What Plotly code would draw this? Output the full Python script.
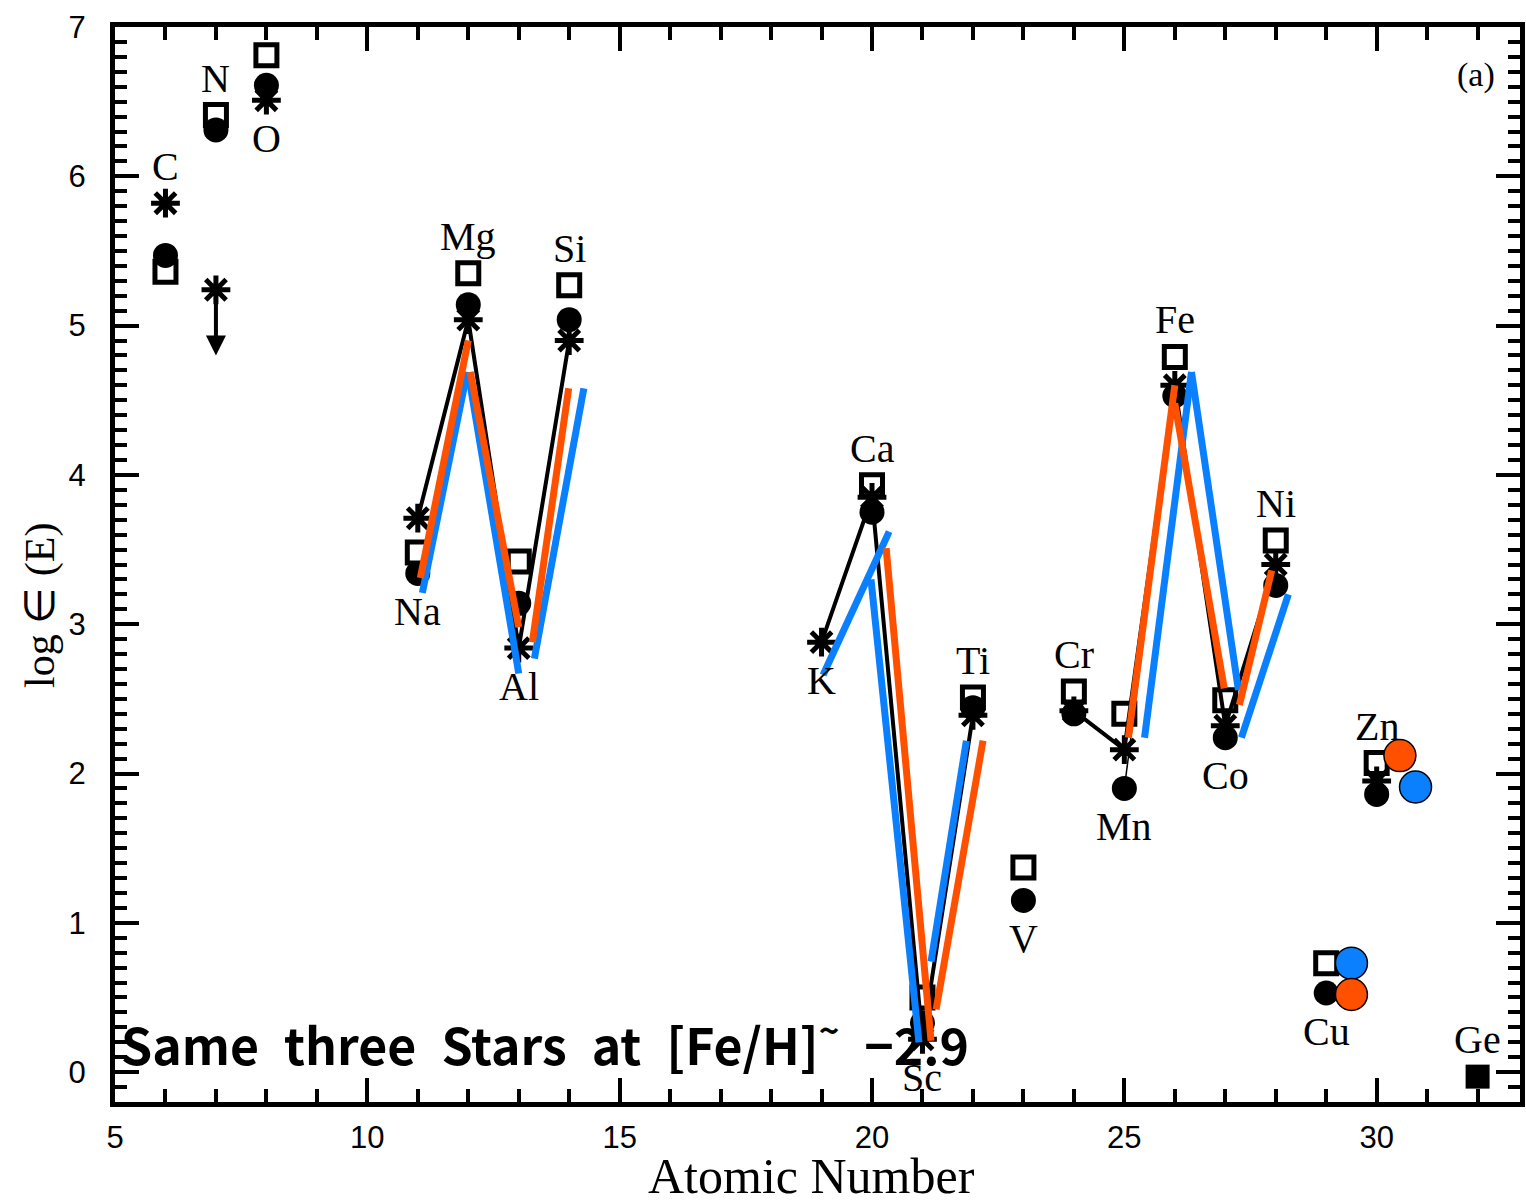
import plotly.graph_objects as go

# ---------------- data ----------------
elements = ["C", "N", "O", "Na", "Mg", "Al", "Si", "K", "Ca", "Sc", "Ti", "V",
            "Cr", "Mn", "Fe", "Co", "Ni", "Cu", "Zn", "Ge"]
atomic_number = [6, 7, 8, 11, 12, 13, 14, 19, 20, 21, 22, 23,
                 24, 25, 26, 27, 28, 29, 30, 32]

# star A (asterisks) - N is an upper limit
star_asterisk = [5.82, 5.24, 6.51, 3.71, 5.04, 2.84, 4.90, 2.88, 3.85, 0.22, 2.39, None,
                 2.42, 2.16, 4.60, 2.32, 3.40, None, 1.95, None]
# star B (open squares)
star_square = [5.36, 6.41, 6.81, 3.48, 5.35, 3.42, 5.27, None, 3.93, 0.50, 2.51, 1.37,
               2.55, 2.40, 4.79, 2.49, 3.56, 0.73, 2.07, None]
# star C (filled circles)
star_circle = [5.47, 6.31, 6.61, 3.34, 5.14, 3.14, 5.04, None, 3.75, 0.33, 2.44, 1.15,
               2.40, 1.90, 4.53, 2.24, 3.26, 0.53, 1.86, None]
# other measurement (filled square)
other_square = [None] * 19 + [-0.03]

upper_limit_elements = ["N"]
label_side = ["above", "above", "below", "below", "above", "below", "above", "below", "above",
              "below", "above", "below", "above", "below", "above", "below", "above", "below",
              "above", "above"]

# groups connected by the black line (through asterisks)
line_groups = [[11, 12, 13, 14], [19, 20, 21, 22], [24, 25, 26, 27, 28]]

# model curves (orange / blue), separate segments
orange_segments = [
    [(11.05, 3.31), (12.00, 4.90)],
    [(12.04, 4.69), (13.00, 2.98)],
    [(13.27, 2.88), (13.99, 4.58)],
    [(20.28, 3.51), (21.17, 0.21)],
    [(21.27, 0.42), (22.20, 2.22)],
    [(25.08, 2.24), (26.00, 4.60)],
    [(26.00, 4.48), (26.98, 2.57)],
    [(27.28, 2.46), (27.92, 3.36)],
]
blue_segments = [
    [(11.09, 3.21), (11.98, 4.69)],
    [(12.00, 4.68), (13.00, 2.67)],
    [(13.31, 2.77), (14.29, 4.58)],
    [(19.03, 2.66), (20.34, 3.62)],
    [(19.98, 3.30), (20.93, 0.20)],
    [(21.17, 0.74), (21.87, 2.22)],
    [(25.40, 2.24), (26.33, 4.69)],
    [(26.33, 4.69), (27.26, 2.56)],
    [(27.32, 2.24), (28.25, 3.20)],
]
orange_points_x = [30.46, 29.50]
orange_points_y = [2.12, 0.52]
blue_points_x = [30.77, 29.50]
blue_points_y = [1.91, 0.73]

caption_words = ["Same", "three", "Stars", "at", "[Fe/H]<sup>~</sup>\u2002−2.9"]

x_title = "Atomic Number"
y_title = "log ∈ (E)"

# ---------------- styles ----------------
ORANGE = "#FF5000"
BLUE = "#0A80FF"
SERIF = "Liberation Serif"
SANS = "Liberation Sans"

fig = go.Figure()

# black connecting line
z_index = {z: i for i, z in enumerate(atomic_number)}
lx, ly = [], []
for g in line_groups:
    for z in g:
        lx.append(z)
        ly.append(star_asterisk[z_index[z]])
    lx.append(None)
    ly.append(None)
fig.add_trace(go.Scatter(x=lx, y=ly, mode="lines",
                         line=dict(color="black", width=4)))

# thin line Mn -> Fe (filled circles)
fig.add_trace(go.Scatter(x=[25, 26], y=[star_circle[z_index[25]], star_circle[z_index[26]]],
                         mode="lines", line=dict(color="black", width=1.5)))

fig.add_trace(go.Scatter(x=atomic_number, y=star_square, mode="markers",
                         marker=dict(symbol="square-open", size=21, color="black",
                                     line=dict(width=5, color="black"))))
fig.add_trace(go.Scatter(x=atomic_number, y=star_circle, mode="markers",
                         marker=dict(symbol="circle", size=25, color="black",
                                     line=dict(width=0))))
fig.add_trace(go.Scatter(x=atomic_number, y=star_asterisk, mode="markers",
                         marker=dict(symbol="asterisk-open", size=24, color="black",
                                     line=dict(width=5, color="black"))))
fig.add_trace(go.Scatter(x=atomic_number, y=other_square, mode="markers",
                         marker=dict(symbol="square", size=24, color="black",
                                     line=dict(width=0))))

# caption text (beneath model lines)
caption = "\u2002".join(caption_words)
fig.add_trace(go.Scatter(x=[5.12], y=[0.13], mode="text", text=[caption],
                         textposition="middle right",
                         textfont=dict(family="Noto Sans CJK JP", size=50, color="black",
                                       weight="bold"),
                         cliponaxis=False))


def seg_xy(segs):
    xs, ys = [], []
    for s in segs:
        for (a, b) in s:
            xs.append(a)
            ys.append(b)
        xs.append(None)
        ys.append(None)
    return xs, ys


bx, by = seg_xy(blue_segments)
ox, oy = seg_xy(orange_segments)
fig.add_trace(go.Scatter(x=bx, y=by, mode="lines", line=dict(color=BLUE, width=7)))
fig.add_trace(go.Scatter(x=ox, y=oy, mode="lines", line=dict(color=ORANGE, width=7)))

fig.add_trace(go.Scatter(x=blue_points_x, y=blue_points_y, mode="markers",
                         marker=dict(symbol="circle", size=32, color=BLUE,
                                     line=dict(width=1.5, color="black"))))
fig.add_trace(go.Scatter(x=orange_points_x, y=orange_points_y, mode="markers",
                         marker=dict(symbol="circle", size=32, color=ORANGE,
                                     line=dict(width=1.5, color="black"))))

# element labels
for el, z, side, a, s, c, o in zip(elements, atomic_number, label_side, star_asterisk,
                                   star_square, star_circle, other_square):
    vals = [v for v in (a, s, c, o) if v is not None]
    if side == "above":
        yv, shift = max(vals), 37
    else:
        yv, shift = min(vals), -38
    fig.add_annotation(x=z, y=yv, text=el, showarrow=False, yshift=shift,
                       font=dict(family=SERIF, size=40, color="black"),
                       xanchor="center", yanchor="middle")

# upper-limit arrows
for el in upper_limit_elements:
    i = elements.index(el)
    fig.add_annotation(x=atomic_number[i], y=star_asterisk[i] - 0.44,
                       ax=atomic_number[i], ay=star_asterisk[i],
                       xref="x", yref="y", axref="x", ayref="y", text="",
                       showarrow=True, arrowhead=2, arrowsize=1.0, arrowwidth=4,
                       arrowcolor="black", standoff=0, startstandoff=0)

fig.add_annotation(x=0.969, y=0.955, xref="paper", yref="paper", text="(a)",
                   xanchor="center", yanchor="middle",
                   showarrow=False, font=dict(family=SERIF, size=34, color="black"))

# axis titles (annotations for exact placement)
fig.add_annotation(x=-0.053, y=0.462, xref="paper", yref="paper", text=y_title,
                   textangle=-90, xanchor="center", yanchor="middle", showarrow=False,
                   font=dict(family=SERIF, size=42, color="black"))
fig.add_annotation(x=0.496, y=-0.069, xref="paper", yref="paper", text=x_title,
                   xanchor="center", yanchor="middle", showarrow=False,
                   font=dict(family=SERIF, size=50, color="black"))

fig.update_layout(
    width=1526, height=1204,
    margin=dict(l=115, r=6, t=27, b=102, autoexpand=False),
    plot_bgcolor="white", paper_bgcolor="white",
    showlegend=False,
)
fig.update_xaxes(
    range=[5, 32.84], tick0=5, dtick=5, automargin=False,
    ticks="inside", ticklen=24, tickwidth=4, tickcolor="black",
    showline=True, linewidth=5, linecolor="black", mirror="allticks",
    showgrid=False, zeroline=False,
    tickfont=dict(family=SANS, size=31, color="black"),
    ticklabelstandoff=4,
    minor=dict(dtick=1, tick0=5, ticks="inside", ticklen=13, tickwidth=4,
               tickcolor="black", showgrid=False),
)
fig.update_yaxes(
    range=[-0.2, 7], tick0=0, dtick=1, automargin=False,
    ticks="inside", ticklen=24, tickwidth=4, tickcolor="black",
    showline=True, linewidth=5, linecolor="black", mirror="allticks",
    showgrid=False, zeroline=False,
    tickfont=dict(family=SANS, size=31, color="black"),
    ticklabelstandoff=18,
    minor=dict(dtick=0.1, tick0=0, ticks="inside", ticklen=12, tickwidth=4,
               tickcolor="black", showgrid=False),
)

fig.write_html("out.html")
